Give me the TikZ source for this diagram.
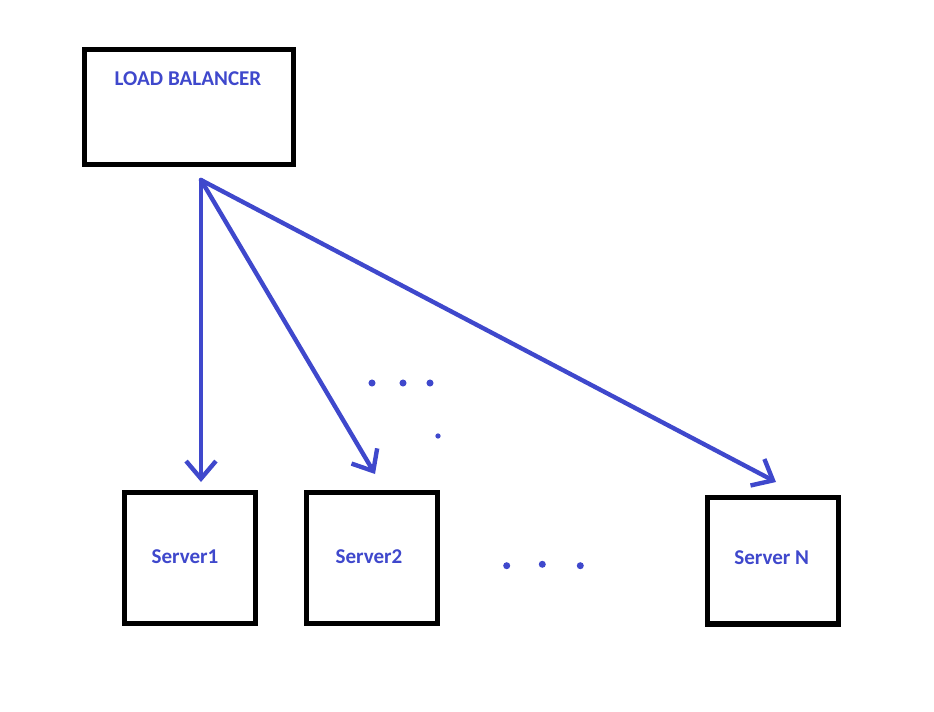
\documentclass[tikz,border=0pt]{standalone}
\usepackage{fontspec}
\setmainfont{Carlito}
\usetikzlibrary{arrows.meta}
\definecolor{pblue}{RGB}{63,72,204}
\tikzset{
	box/.style={draw=black, line width=3.1pt, inner sep=0pt, minimum width=2.62cm, minimum height=2.62cm},
	tag/.style={text=pblue, font=\bfseries\fontsize{12}{14}\selectfont},
	link/.style={draw=pblue, line width=2.5pt, line cap=round, line join=round, -{Straight Barb[length=10pt,width=17pt]}},
}
\begin{document}
\begin{tikzpicture}[x=0.02cm, y=-0.02cm]
			%%Khung ảnh
			\useasboundingbox (0,0) rectangle (934,711);
			%%Bộ cân bằng tải
			\node[box, minimum width=4.18cm, minimum height=2.3cm] (lb) at (189,107) {};
			\node[tag] (lbtext) at (188,79) {LOAD BALANCER};
			%%Các máy chủ
			\node[box] (s1) at (189.8,558) {};
			\node[box] (s2) at (372.1,558) {};
			\node[box, minimum height=2.53cm] (sn) at (773,560.8) {};
			\node[tag] (s1text) at (185,557) {Server1};
			\node[tag] (s2text) at (369,556.7) {Server2};
			\node[tag] (sntext) at (771.7,558) {Server N};
			%%Mũi tên
			\coordinate (src) at (201,180);
			\coordinate (t1) at (201,482);
			\coordinate (t2) at (375,474);
			\coordinate (tn) at (776,482);
			\draw[link] (src) -- (t1);
			\draw[link] (src) -- (t2);
			\draw[link] (src) -- (tn);
			%%Dấu chấm
			\foreach \x in {372,403,430}
			\fill[pblue] (\x,383) circle(2pt);
			\fill[pblue] (438,436) circle(1.5pt);
			\fill[pblue]
			(506.7,565.7) circle(2pt)
			(542.3,564.3) circle(2pt)
			(580.3,565.7) circle(2pt)
			;
		\end{tikzpicture}
\end{document}
